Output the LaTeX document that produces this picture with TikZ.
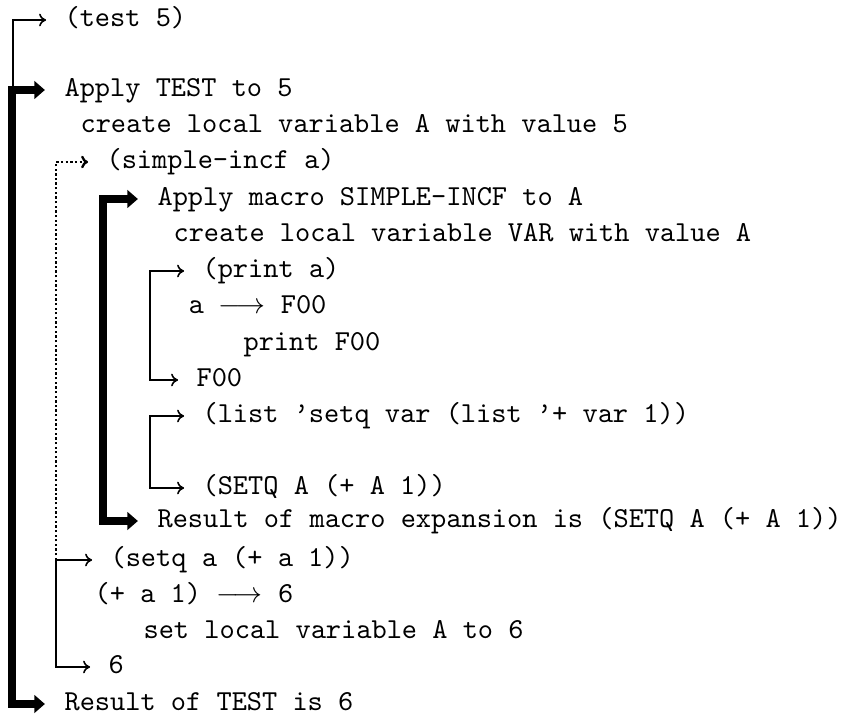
\documentclass[tikz,border=0pt]{standalone}
\usetikzlibrary{arrows.meta}

\tikzset{
  txt/.style={anchor=mid west, inner sep=0pt, font=\fontencoding{OT1}\fontfamily{cmtt}\selectfont},
  evalarrow/.style={line width=0.55pt, line join=miter, shorten >=6.2pt, shorten <=6.2pt},
  dotarrow/.style={line width=0.8pt, dash pattern=on 0.8pt off 0.8pt, shorten >=6.2pt,
    -{To[length=2.4pt,width=4.4pt]}},
  applyarrow/.style={line width=2.5pt, line join=miter, shorten >=6.6pt, shorten <=6.6pt,
    {Triangle[length=3.6pt,width=6pt]}-{Triangle[length=3.6pt,width=6pt]}}
}

\begin{document}
\begin{tikzpicture}[x=0.3454pt, y=-0.3454pt]

      \useasboundingbox (0,0) rectangle (848,719);

      % the lines of the trace
      \node[txt] (test) at (64,20) {(test 5)};
      \node[txt] (applytest) at (64,90) {Apply TEST to 5};
      \node[txt] (createA) at (80,126) {create local variable A with value 5};
      \node[txt] (simpleincf) at (106,162) {(simple-incf a)};
      \node[txt] (applymacro) at (157,199) {Apply macro SIMPLE-INCF to A};
      \node[txt] (createvar) at (173,235) {create local variable VAR with value A};
      \node[txt] (printa) at (202,271) {(print a)};
      \node[txt] (afoo) at (188,307) {a $\longrightarrow$ F00};
      \node[txt] (printfoo) at (243,344) {print F00};
      \node[txt] (foo) at (196,380) {F00};
      \node[txt] (listform) at (202,416) {(list 'setq var (list '+ var 1))};
      \node[txt] (setqform) at (202,488) {(SETQ A (+ A 1))};
      \node[txt] (expansion) at (157,521) {Result of macro expansion is (SETQ A (+ A 1))};
      \node[txt] (setqa) at (110,560) {(setq a (+ a 1))};
      \node[txt] (plusa) at (94,596) {(+ a 1) $\longrightarrow$ 6};
      \node[txt] (setA) at (143,632) {set local variable A to 6};
      \node[txt] (six) at (108,667) {6};
      \node[txt] (resulttest) at (64,704) {Result of TEST is 6};

      % rails of the brackets
      \coordinate (rtest) at (13,0);
      \coordinate (rapply) at (12,0);
      \coordinate (rdot) at (56,0);
      \coordinate (rmacro) at (103,0);
      \coordinate (rinner) at (150,0);

      \draw[evalarrow, shorten <=0pt, -{To[length=2.4pt,width=4.4pt]}]
        (rtest |- applytest.mid west) -- (rtest |- test.mid west) -- (test.mid west);
      \draw[applyarrow] (applytest.mid west) -- (rapply |- applytest.mid west)
        -- (rapply |- resulttest.mid west) -- (resulttest.mid west);

      \draw[dotarrow] (rdot |- setqa.mid west) -- (rdot |- simpleincf.mid west)
        -- (simpleincf.mid west);
      \draw[applyarrow] (applymacro.mid west) -- (rmacro |- applymacro.mid west)
        -- (rmacro |- expansion.mid west) -- (expansion.mid west);

      \draw[evalarrow, {To[length=2.4pt,width=4.4pt]}-{To[length=2.4pt,width=4.4pt]}]
        (printa.mid west) -- (rinner |- printa.mid west) -- (rinner |- foo.mid west) -- (foo.mid west);
      \draw[evalarrow, {To[length=2.4pt,width=4.4pt]}-{To[length=2.4pt,width=4.4pt]}]
        (listform.mid west) -- (rinner |- listform.mid west) -- (rinner |- setqform.mid west) -- (setqform.mid west);
      \draw[evalarrow, {To[length=2.4pt,width=4.4pt]}-{To[length=2.4pt,width=4.4pt]}]
        (setqa.mid west) -- (rdot |- setqa.mid west) -- (rdot |- six.mid west) -- (six.mid west);

    \end{tikzpicture}
\end{document}
